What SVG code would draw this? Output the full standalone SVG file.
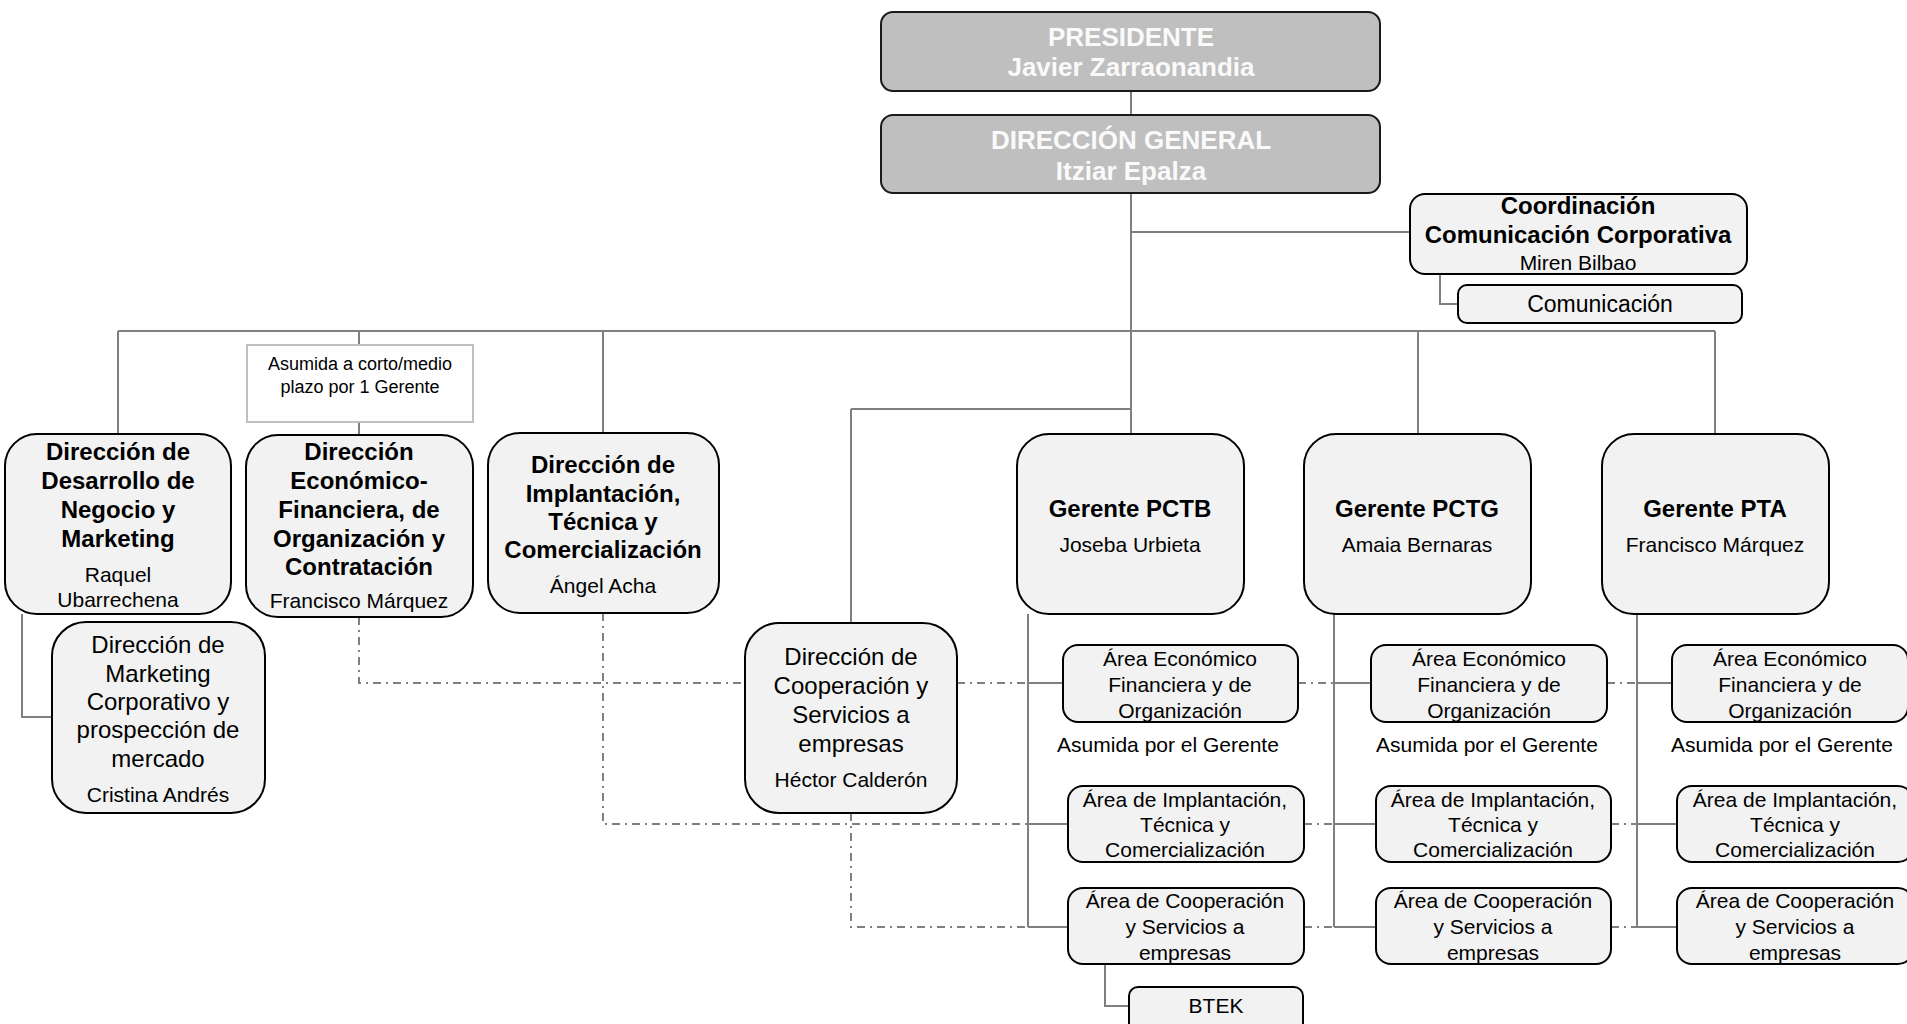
<svg xmlns="http://www.w3.org/2000/svg" width="1907" height="1024" viewBox="0 0 1907 1024">
<style>
text{font-family:"Liberation Sans",Arial,sans-serif;text-anchor:middle;fill:#000}
.b{font-weight:bold;font-size:24px}
.r{font-size:21px}
.t{font-size:24px}
.top{font-weight:bold;font-size:26px;fill:#fafafa}
.s{font-size:18px}
.box{fill:#f2f2f2;stroke:#000;stroke-width:2}
.gbox{fill:#bfbfbf;stroke:#1a1a1a;stroke-width:2}
.note{fill:#fff;stroke:#c0c0c0;stroke-width:2}
.ln{fill:none;stroke:#7f7f7f;stroke-width:2}
.dd{fill:none;stroke:#808080;stroke-width:2;stroke-dasharray:8 5 2 5}
</style>
<rect width="1907" height="1024" fill="#fff"/>
<g id="connectors">
<path class="ln" d="M1131 91V115M1131 193V434M1131 232H1410M1440 273V304H1458M118 331H1715M118 331V434M359 331V345M359 422V434M603 331V433M1418 331V434M1715 331V434M851 409H1131M851 409V623M22 614V717H52"/>
<path class="ln" d="M1028 614V927M1028 683H1063M1028 824H1068M1028 927H1068M1105 964V1006H1129"/>
<path class="ln" d="M1334 614V927M1334 683H1371M1334 824H1376M1334 927H1376"/>
<path class="ln" d="M1637 614V927M1637 683H1672M1637 824H1677M1637 927H1677"/>
<path class="dd" d="M359 617V683H745M957 683H1028M1298 683H1334M1607 683H1637"/>
<path class="dd" d="M603 613V824H1028M1304 824H1334M1611 824H1637"/>
<path class="dd" d="M851 813V927H1028M1304 927H1334M1611 927H1637"/>
</g>
<g id="presidente"><rect class="gbox" x="881" y="12" width="499" height="79" rx="12"/><text class="top" x="1131" y="46">PRESIDENTE</text><text class="top" x="1131" y="76">Javier Zarraonandia</text></g>
<g id="direccion-general"><rect class="gbox" x="881" y="115" width="499" height="78" rx="12"/><text class="top" x="1131" y="149">DIRECCIÓN GENERAL</text><text class="top" x="1131" y="180">Itziar Epalza</text></g>
<g id="coordinacion"><rect class="box" x="1410" y="194" width="337" height="80" rx="15"/><text class="b" x="1578" y="214">Coordinación</text><text class="b" x="1578" y="243">Comunicación Corporativa</text><text class="r" x="1578" y="270">Miren Bilbao</text></g>
<g id="comunicacion"><rect class="box" x="1458" y="285" width="284" height="38" rx="9"/><text style="font-size:23px" x="1600" y="312">Comunicación</text></g>
<g id="nota-asumida"><rect class="note" x="247" y="345" width="226" height="77"/><text class="s" x="360" y="370">Asumida a corto/medio</text><text class="s" x="360" y="393">plazo por 1 Gerente</text></g>
<g id="dir-desarrollo"><rect class="box" x="5" y="434" width="226" height="180" rx="32"/><text class="b" x="118" y="460">Dirección de</text><text class="b" x="118" y="489">Desarrollo de</text><text class="b" x="118" y="518">Negocio y</text><text class="b" x="118" y="547">Marketing</text><text class="r" x="118" y="582">Raquel</text><text class="r" x="118" y="607">Ubarrechena</text></g>
<g id="dir-economico"><rect class="box" x="246" y="435" width="227" height="182" rx="32"/><text class="b" x="359" y="460">Dirección</text><text class="b" x="359" y="489">Económico-</text><text class="b" x="359" y="518">Financiera, de</text><text class="b" x="359" y="547">Organización y</text><text class="b" x="359" y="575">Contratación</text><text class="r" x="359" y="608">Francisco Márquez</text></g>
<g id="dir-implantacion"><rect class="box" x="488" y="433" width="231" height="180" rx="32"/><text class="b" x="603" y="473">Dirección de</text><text class="b" x="603" y="502">Implantación,</text><text class="b" x="603" y="530">Técnica y</text><text class="b" x="603" y="558">Comercialización</text><text class="r" x="603" y="593">Ángel Acha</text></g>
<g id="dir-marketing"><rect class="box" x="52" y="622" width="213" height="191" rx="34"/><text class="t" x="158" y="653">Dirección de</text><text class="t" x="158" y="682">Marketing</text><text class="t" x="158" y="710">Corporativo y</text><text class="t" x="158" y="738">prospección de</text><text class="t" x="158" y="767">mercado</text><text class="r" x="158" y="802">Cristina Andrés</text></g>
<g id="dir-cooperacion"><rect class="box" x="745" y="623" width="212" height="190" rx="34"/><text class="t" x="851" y="665">Dirección de</text><text class="t" x="851" y="694">Cooperación y</text><text class="t" x="851" y="723">Servicios a</text><text class="t" x="851" y="752">empresas</text><text class="r" x="851" y="787">Héctor Calderón</text></g>
<g id="gerente-pctb"><rect class="box" x="1017" y="434" width="227" height="180" rx="32"/><text class="b" x="1130" y="517">Gerente PCTB</text><text class="r" x="1130" y="552">Joseba Urbieta</text></g>
<g id="gerente-pctg"><rect class="box" x="1304" y="434" width="227" height="180" rx="32"/><text class="b" x="1417" y="517">Gerente PCTG</text><text class="r" x="1417" y="552">Amaia Bernaras</text></g>
<g id="gerente-pta"><rect class="box" x="1602" y="434" width="227" height="180" rx="32"/><text class="b" x="1715" y="517">Gerente PTA</text><text class="r" x="1715" y="552">Francisco Márquez</text></g>
<g id="pctb-economico"><rect class="box" x="1063" y="645" width="235" height="77" rx="15"/><text class="r" x="1180" y="666">Área Económico</text><text class="r" x="1180" y="692">Financiera y de</text><text class="r" x="1180" y="718">Organización</text></g>
<text class="r" x="1168" y="752">Asumida por el Gerente</text>
<g id="pctb-implantacion"><rect class="box" x="1068" y="786" width="236" height="76" rx="15"/><text class="r" x="1185" y="807">Área de Implantación,</text><text class="r" x="1185" y="832">Técnica y</text><text class="r" x="1185" y="857">Comercialización</text></g>
<g id="pctb-cooperacion"><rect class="box" x="1068" y="888" width="236" height="76" rx="15"/><text class="r" x="1185" y="908">Área de Cooperación</text><text class="r" x="1185" y="934">y Servicios a</text><text class="r" x="1185" y="960">empresas</text></g>
<g id="btek"><rect class="box" x="1129" y="987" width="174" height="45" rx="9"/><text class="r" x="1216" y="1013">BTEK</text></g>
<g id="pctg-economico"><rect class="box" x="1371" y="645" width="236" height="77" rx="15"/><text class="r" x="1489" y="666">Área Económico</text><text class="r" x="1489" y="692">Financiera y de</text><text class="r" x="1489" y="718">Organización</text></g>
<text class="r" x="1487" y="752">Asumida por el Gerente</text>
<g id="pctg-implantacion"><rect class="box" x="1376" y="786" width="235" height="76" rx="15"/><text class="r" x="1493" y="807">Área de Implantación,</text><text class="r" x="1493" y="832">Técnica y</text><text class="r" x="1493" y="857">Comercialización</text></g>
<g id="pctg-cooperacion"><rect class="box" x="1376" y="888" width="235" height="76" rx="15"/><text class="r" x="1493" y="908">Área de Cooperación</text><text class="r" x="1493" y="934">y Servicios a</text><text class="r" x="1493" y="960">empresas</text></g>
<g id="pta-economico"><rect class="box" x="1672" y="645" width="236" height="77" rx="15"/><text class="r" x="1790" y="666">Área Económico</text><text class="r" x="1790" y="692">Financiera y de</text><text class="r" x="1790" y="718">Organización</text></g>
<text class="r" x="1782" y="752">Asumida por el Gerente</text>
<g id="pta-implantacion"><rect class="box" x="1677" y="786" width="236" height="76" rx="15"/><text class="r" x="1795" y="807">Área de Implantación,</text><text class="r" x="1795" y="832">Técnica y</text><text class="r" x="1795" y="857">Comercialización</text></g>
<g id="pta-cooperacion"><rect class="box" x="1677" y="888" width="236" height="76" rx="15"/><text class="r" x="1795" y="908">Área de Cooperación</text><text class="r" x="1795" y="934">y Servicios a</text><text class="r" x="1795" y="960">empresas</text></g>
</svg>
